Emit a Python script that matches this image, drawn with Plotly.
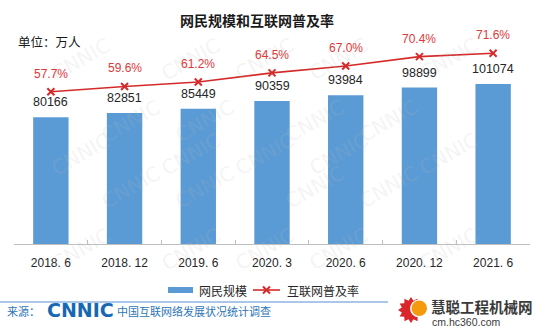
import math
import plotly.graph_objects as go

# ---------------- data ----------------
categories = ["2018. 6", "2018. 12", "2019. 6", "2020. 3", "2020. 6", "2020. 12", "2021. 6"]
netizens = [80166, 82851, 85449, 90359, 93984, 98899, 101074]          # 万人
penetration = [57.7, 59.6, 61.2, 64.5, 67.0, 70.4, 71.6]               # %
pct_labels = [f"{v:.1f}%" for v in penetration]
bar_labels = [str(v) for v in netizens]

# ---------------- geometry helpers ----------------
W, H = 550, 336
L, R, T, B = 14, 20, 28, 92
PW, PH = W - L - R, H - T - B
BASE = H - B


def px(x):
    return (x - L) / PW


def py(y):
    return (BASE - y) / PH


BLUE = "#5b9bd5"
RED = "#d42a2a"
RED_TXT = "#e0393a"
FONT = "Liberation Sans, Noto Sans CJK SC, sans-serif"
CJK = "Noto Sans CJK SC, sans-serif"

fig = go.Figure()
fig.add_trace(go.Bar(
    x=categories, y=netizens, name="网民规模",
    marker=dict(color=BLUE, line=dict(width=0)), width=0.48,
    showlegend=False, hoverinfo="x+y",
))
fig.add_trace(go.Scatter(
    x=categories, y=penetration, name="互联网普及率", yaxis="y2",
    mode="lines+markers",
    line=dict(color=RED, width=1.6),
    marker=dict(symbol="x-thin", size=7, line=dict(color=RED, width=2)),
    showlegend=False, cliponaxis=False,
))

ann = []
for c, v, t in zip(categories, penetration, pct_labels):
    ann.append(dict(x=c, y=v, xref="x", yref="y2", text=t, showarrow=False,
                    yshift=18, yanchor="middle",
                    font=dict(size=12, color=RED_TXT, family=FONT)))
for c, v, t in zip(categories, netizens, bar_labels):
    ann.append(dict(x=c, y=v, xref="x", yref="y", text=t, showarrow=False,
                    yshift=15, yanchor="middle",
                    font=dict(size=12.5, color="#262626", family=FONT)))

# faint background watermark
wm = []
for r in range(5):
    for k in range(5):
        x = 45 + k * 110 + (r % 2) * 50
        y = 30 + r * 62
        if x > 515:
            continue
        wm.append(dict(x=px(x), y=py(y), xref="paper", yref="paper", text="CNNIC",
                       showarrow=False, textangle=-30,
                       font=dict(size=20, color="rgba(185,185,185,0.17)", family="DejaVu Sans")))

texts = [
    dict(x=px(257), y=py(20), text="<b>网民规模和互联网普及率</b>",
         font=dict(size=14, color="#1a1a1a", family=CJK)),
    dict(x=px(16), y=py(41), text="单位：万人", xanchor="left",
         font=dict(size=12.5, color="#1a1a1a", family=CJK)),
    # legend
    dict(x=px(197), y=py(290), text="网民规模", xanchor="left",
         font=dict(size=12, color="#262626", family=CJK)),
    dict(x=px(285), y=py(290), text="互联网普及率", xanchor="left",
         font=dict(size=12, color="#262626", family=CJK)),
    # source
    dict(x=px(5), y=py(311), text="来源：", xanchor="left",
         font=dict(size=11, color="#2e75b6", family=CJK)),
    dict(x=px(45), y=py(310), text="<b>CNNIC</b>", xanchor="left",
         font=dict(size=19, color="#1768b3", family="DejaVu Sans")),
    dict(x=px(115), y=py(311), text="中国互联网络发展状况统计调查", xanchor="left",
         font=dict(size=11, color="#2e75b6", family=CJK)),
    dict(x=px(429), y=py(306), text="<b>慧聪工程机械网</b>", xanchor="left",
         font=dict(size=14.5, color="#3a3a3a", family=CJK)),
    dict(x=px(430), y=py(322), text="cm.hc360.com", xanchor="left",
         font=dict(size=10.5, color="#3a3a3a", family=FONT)),
]
for t in texts:
    t.update(xref="paper", yref="paper", showarrow=False, yanchor="middle")
    t.setdefault("xanchor", "center")

shapes = [
    # legend symbols
    dict(type="rect", xref="paper", yref="paper", x0=px(168), x1=px(193), y0=py(293), y1=py(287),
         fillcolor=BLUE, line=dict(width=0)),
    dict(type="line", xref="paper", yref="paper", x0=px(253), x1=px(280), y0=py(290), y1=py(290),
         line=dict(color=RED, width=1.6)),
    dict(type="line", xref="paper", yref="paper", x0=px(263), x1=px(270), y0=py(286.5), y1=py(293.5),
         line=dict(color=RED, width=2)),
    dict(type="line", xref="paper", yref="paper", x0=px(263), x1=px(270), y0=py(293.5), y1=py(286.5),
         line=dict(color=RED, width=2)),
    # source separator
    dict(type="line", xref="paper", yref="paper", x0=px(0), x1=px(388), y0=py(302), y1=py(302),
         line=dict(color="#8db4e2", width=1.5)),
]

# gear logo
cx, cy = 411, 310
pts = []
n = 12
for i in range(n * 2):
    a = math.pi * i / n
    rr = 13 if i % 2 == 0 else 9.5
    pts.append((cx + rr * math.cos(a), cy + rr * math.sin(a)))
path = "M " + " L ".join(f"{px(x):.5f},{py(y):.5f}" for x, y in pts) + " Z"
shapes.append(dict(type="path", xref="paper", yref="paper", path=path,
                   fillcolor="#d9262b", line=dict(width=0)))
shapes.append(dict(type="circle", xref="paper", yref="paper",
                   x0=px(410), x1=px(428), y0=py(317.5), y1=py(299.5),
                   fillcolor="white", line=dict(width=0)))
shapes.append(dict(type="circle", xref="paper", yref="paper",
                   x0=px(411.5), x1=px(427), y0=py(316), y1=py(300.5),
                   fillcolor="#f59a0c", line=dict(width=0)))

fig.update_layout(
    width=W, height=H,
    margin=dict(l=L, r=R, t=T, b=B),
    paper_bgcolor="white", plot_bgcolor="rgba(0,0,0,0)",
    font=dict(family=FONT, color="#262626"),
    showlegend=False,
    bargap=0.52,
    xaxis=dict(showline=True, linecolor="#bfbfbf", linewidth=1,
               ticks="inside", ticklen=4, tickcolor="#bfbfbf", tickson="boundaries",
               showgrid=False, zeroline=False, ticklabelstandoff=8,
               tickfont=dict(size=12, color="#262626", family=FONT)),
    yaxis=dict(range=[0, 136530], visible=False, showgrid=False),
    yaxis2=dict(range=[2.57, 80.75], overlaying="y", visible=False, showgrid=False),
    annotations=wm + ann + texts,
    shapes=shapes,
)

fig.write_html("out.html")
